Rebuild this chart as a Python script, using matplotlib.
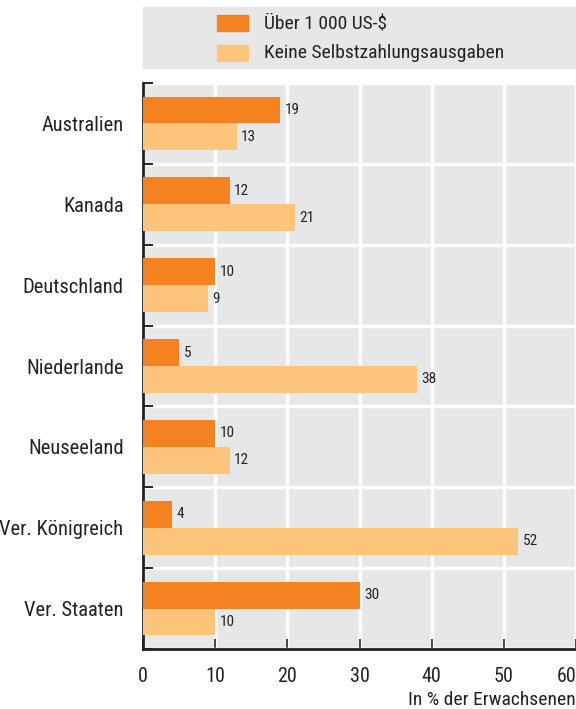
import matplotlib.pyplot as plt
import numpy as np
from matplotlib.patches import Rectangle
from matplotlib import font_manager

names = {f.name for f in font_manager.fontManager.ttflist}
fams = [f for f in ['Liberation Sans Narrow', 'DejaVu Sans Condensed', 'Roboto Condensed',
                    'Liberation Sans'] if f in names]
plt.rcParams['font.family'] = fams + ['DejaVu Sans']
narrow = fams[0] != 'Liberation Sans'

# data
countries = ['Australien', 'Kanada', 'Deutschland', 'Niederlande', 'Neuseeland',
             'Ver. Königreich', 'Ver. Staaten']
over_1000 = [19, 12, 10, 5, 10, 4, 30]
no_payment = [13, 21, 9, 38, 12, 52, 10]
series_names = ['Über 1 000 US-$', 'Keine Selbstzahlungsausgaben']

orange = '#F58220'
light = '#FDC57B'
bg = '#E6E7E8'
txt = '#222222'

fs_cat = 14.8 if narrow else 12
fs_leg = 14 if narrow else 12
fs_val = 11 if narrow else 9.5
fs_tick = 14.5 if narrow else 13

fig = plt.figure(figsize=(5.76, 7.09), dpi=100)
W, H = 576, 709
ax = fig.add_axes([143 / W, 1 - 649 / H, (576 - 143) / W, (649 - 83) / H])
ax.set_facecolor(bg)

n = len(countries)
y = np.arange(n)
h = 0.333
ax.barh(y - h / 2, over_1000, height=h, color=orange, zorder=3)
ax.barh(y + h / 2, no_payment, height=h, color=light, zorder=3)

for i in range(n):
    ax.text(over_1000[i] + 0.6, y[i] - h / 2, str(over_1000[i]), va='center', ha='left',
            fontsize=fs_val, color=txt, zorder=4)
    ax.text(no_payment[i] + 0.6, y[i] + h / 2, str(no_payment[i]), va='center', ha='left',
            fontsize=fs_val, color=txt, zorder=4)

ax.set_xlim(0, 60)
ax.set_ylim(n - 0.5, -0.5)
ax.set_xticks(range(0, 61, 10))
ax.tick_params(axis='x', direction='in', length=7, width=1.2, labelsize=fs_tick, pad=13,
               colors=txt)
ax.get_xticklabels()[-1].set_horizontalalignment('right')
ax.set_yticks(np.arange(n + 1) - 0.5)
ax.set_yticks(y, minor=True)
ax.set_yticklabels([])
ax.set_yticklabels(countries, minor=True, fontsize=fs_cat, color=txt)
ax.tick_params(axis='y', which='major', direction='in', length=7, width=1.2)
ax.tick_params(axis='y', which='minor', length=0, pad=14)

ax.grid(True, which='major', color='white', linewidth=2.5, zorder=1)
ax.set_axisbelow(True)
for s in ['top', 'right']:
    ax.spines[s].set_visible(False)
for s in ['left', 'bottom']:
    ax.spines[s].set_linewidth(2)
    ax.spines[s].set_color(txt)

fig.text(576 / W, 1 - 700 / H, 'In % der Erwachsenen', ha='right', va='center',
         fontsize=fs_leg, color=txt)

# legend box
fig.patches.append(Rectangle((143 / W, 1 - 68 / H), (576 - 143) / W, 61 / H,
                             transform=fig.transFigure, color=bg, zorder=0))
for k, (col, name) in enumerate(zip([orange, light], series_names)):
    yc = 23 + 30 * k
    fig.patches.append(Rectangle((217 / W, 1 - (yc + 8) / H), 31 / W, 16 / H,
                                 transform=fig.transFigure, color=col, zorder=1))
    fig.text(264 / W, 1 - yc / H, name, ha='left', va='center', fontsize=fs_leg,
             color=txt)

fig.savefig('out.png', dpi=100)
